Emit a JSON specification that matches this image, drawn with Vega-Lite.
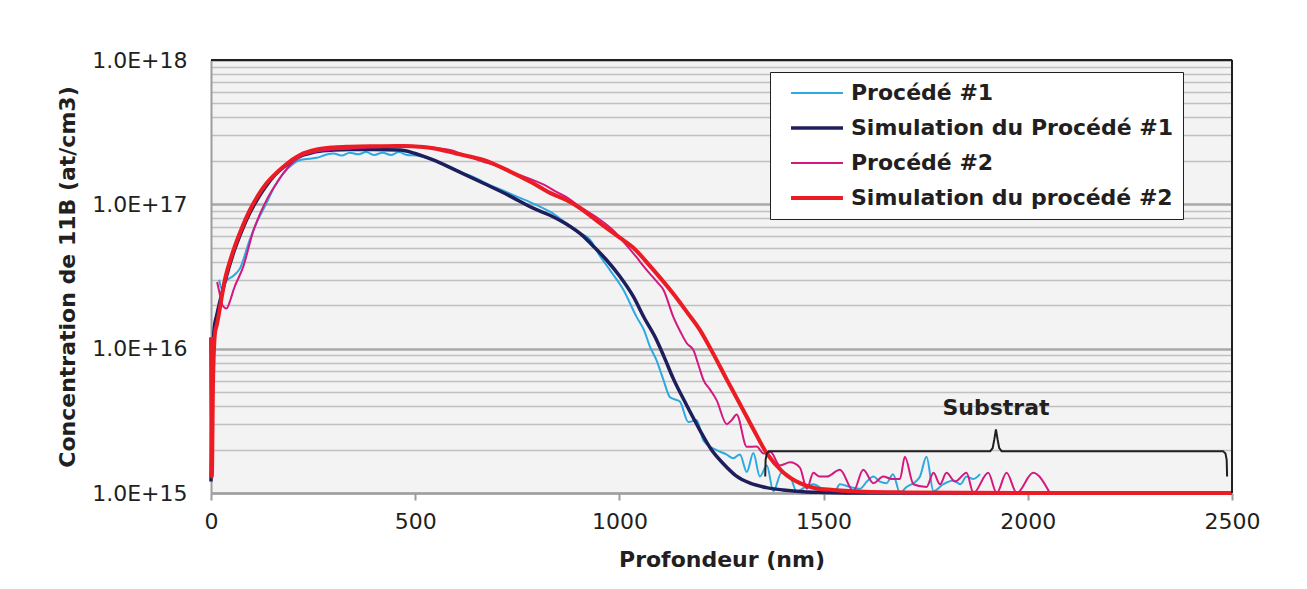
{
  "$schema": "https://vega.github.io/schema/vega-lite/v6.json",
  "width": 1021,
  "height": 433,
  "autosize": {"type": "none"},
  "padding": {"left": 211, "top": 60, "right": 75, "bottom": 96},
  "background": "white",
  "config": {
    "font": "DejaVu Sans",
    "view": {"fill": "#F3F3F3", "stroke": null},
    "axis": {
      "labelFont": "DejaVu Sans",
      "labelFontSize": 22,
      "labelColor": "#231F20",
      "titleFont": "DejaVu Sans",
      "titleFontSize": 22,
      "titleFontWeight": "bold",
      "titleColor": "#231F20",
      "domainColor": "#9D9D9D",
      "domainWidth": 2,
      "tickColor": "#9D9D9D",
      "tickWidth": 2
    }
  },
  "datasets": {
    "profils": [
      {"serie": "Procédé #1", "depth": 20, "conc": 3.0e16},
      {"serie": "Procédé #1", "depth": 26, "conc": 2.6e16},
      {"serie": "Procédé #1", "depth": 35, "conc": 2.9e16},
      {"serie": "Procédé #1", "depth": 55, "conc": 3.2e16},
      {"serie": "Procédé #1", "depth": 71, "conc": 3.6e16},
      {"serie": "Procédé #1", "depth": 95, "conc": 5.7e16},
      {"serie": "Procédé #1", "depth": 115, "conc": 7.8e16},
      {"serie": "Procédé #1", "depth": 136, "conc": 1.02e17},
      {"serie": "Procédé #1", "depth": 155, "conc": 1.32e17},
      {"serie": "Procédé #1", "depth": 177, "conc": 1.64e17},
      {"serie": "Procédé #1", "depth": 200, "conc": 1.9e17},
      {"serie": "Procédé #1", "depth": 218, "conc": 2.03e17},
      {"serie": "Procédé #1", "depth": 240, "conc": 2.07e17},
      {"serie": "Procédé #1", "depth": 259, "conc": 2.1e17},
      {"serie": "Procédé #1", "depth": 280, "conc": 2.2e17},
      {"serie": "Procédé #1", "depth": 300, "conc": 2.25e17},
      {"serie": "Procédé #1", "depth": 320, "conc": 2.18e17},
      {"serie": "Procédé #1", "depth": 340, "conc": 2.28e17},
      {"serie": "Procédé #1", "depth": 360, "conc": 2.22e17},
      {"serie": "Procédé #1", "depth": 380, "conc": 2.3e17},
      {"serie": "Procédé #1", "depth": 400, "conc": 2.2e17},
      {"serie": "Procédé #1", "depth": 420, "conc": 2.28e17},
      {"serie": "Procédé #1", "depth": 440, "conc": 2.2e17},
      {"serie": "Procédé #1", "depth": 460, "conc": 2.3e17},
      {"serie": "Procédé #1", "depth": 480, "conc": 2.2e17},
      {"serie": "Procédé #1", "depth": 504, "conc": 2.18e17},
      {"serie": "Procédé #1", "depth": 540, "conc": 2.05e17},
      {"serie": "Procédé #1", "depth": 585, "conc": 1.82e17},
      {"serie": "Procédé #1", "depth": 615, "conc": 1.66e17},
      {"serie": "Procédé #1", "depth": 642, "conc": 1.55e17},
      {"serie": "Procédé #1", "depth": 683, "conc": 1.36e17},
      {"serie": "Procédé #1", "depth": 715, "conc": 1.25e17},
      {"serie": "Procédé #1", "depth": 749, "conc": 1.13e17},
      {"serie": "Procédé #1", "depth": 780, "conc": 1.04e17},
      {"serie": "Procédé #1", "depth": 813, "conc": 9.4e16},
      {"serie": "Procédé #1", "depth": 830, "conc": 8.9e16},
      {"serie": "Procédé #1", "depth": 870, "conc": 7.4e16},
      {"serie": "Procédé #1", "depth": 900, "conc": 6.4e16},
      {"serie": "Procédé #1", "depth": 928, "conc": 5.7e16},
      {"serie": "Procédé #1", "depth": 950, "conc": 4.5e16},
      {"serie": "Procédé #1", "depth": 977, "conc": 3.5e16},
      {"serie": "Procédé #1", "depth": 1010, "conc": 2.55e16},
      {"serie": "Procédé #1", "depth": 1042, "conc": 1.66e16},
      {"serie": "Procédé #1", "depth": 1060, "conc": 1.35e16},
      {"serie": "Procédé #1", "depth": 1075, "conc": 1.03e16},
      {"serie": "Procédé #1", "depth": 1091, "conc": 8.3e15},
      {"serie": "Procédé #1", "depth": 1108, "conc": 6.05e15},
      {"serie": "Procédé #1", "depth": 1124, "conc": 4.6e15},
      {"serie": "Procédé #1", "depth": 1148, "conc": 4.3e15},
      {"serie": "Procédé #1", "depth": 1169, "conc": 3.1e15},
      {"serie": "Procédé #1", "depth": 1189, "conc": 3.2e15},
      {"serie": "Procédé #1", "depth": 1206, "conc": 2.3e15},
      {"serie": "Procédé #1", "depth": 1238, "conc": 1.98e15},
      {"serie": "Procédé #1", "depth": 1262, "conc": 1.85e15},
      {"serie": "Procédé #1", "depth": 1279, "conc": 1.74e15},
      {"serie": "Procédé #1", "depth": 1295, "conc": 1.85e15},
      {"serie": "Procédé #1", "depth": 1312, "conc": 1.4e15},
      {"serie": "Procédé #1", "depth": 1328, "conc": 1.89e15},
      {"serie": "Procédé #1", "depth": 1344, "conc": 1.3e15},
      {"serie": "Procédé #1", "depth": 1361, "conc": 1.55e15},
      {"serie": "Procédé #1", "depth": 1377, "conc": 1.03e15},
      {"serie": "Procédé #1", "depth": 1397, "conc": 1.38e15},
      {"serie": "Procédé #1", "depth": 1418, "conc": 1.3e15},
      {"serie": "Procédé #1", "depth": 1434, "conc": 1.02e15},
      {"serie": "Procédé #1", "depth": 1455, "conc": 1.1e15},
      {"serie": "Procédé #1", "depth": 1475, "conc": 1.15e15},
      {"serie": "Procédé #1", "depth": 1500, "conc": 1.05e15},
      {"serie": "Procédé #1", "depth": 1525, "conc": 1.0e15},
      {"serie": "Procédé #1", "depth": 1540, "conc": 1.15e15},
      {"serie": "Procédé #1", "depth": 1565, "conc": 1.1e15},
      {"serie": "Procédé #1", "depth": 1589, "conc": 1.07e15},
      {"serie": "Procédé #1", "depth": 1606, "conc": 1.2e15},
      {"serie": "Procédé #1", "depth": 1622, "conc": 1.3e15},
      {"serie": "Procédé #1", "depth": 1638, "conc": 1.2e15},
      {"serie": "Procédé #1", "depth": 1654, "conc": 1.17e15},
      {"serie": "Procédé #1", "depth": 1670, "conc": 1.35e15},
      {"serie": "Procédé #1", "depth": 1687, "conc": 1.0e15},
      {"serie": "Procédé #1", "depth": 1703, "conc": 1.1e15},
      {"serie": "Procédé #1", "depth": 1720, "conc": 1.17e15},
      {"serie": "Procédé #1", "depth": 1736, "conc": 1.3e15},
      {"serie": "Procédé #1", "depth": 1752, "conc": 1.78e15},
      {"serie": "Procédé #1", "depth": 1769, "conc": 1.03e15},
      {"serie": "Procédé #1", "depth": 1793, "conc": 1.15e15},
      {"serie": "Procédé #1", "depth": 1818, "conc": 1.22e15},
      {"serie": "Procédé #1", "depth": 1835, "conc": 1.15e15},
      {"serie": "Procédé #1", "depth": 1850, "conc": 1.3e15},
      {"serie": "Procédé #1", "depth": 1867, "conc": 1.25e15},
      {"serie": "Procédé #1", "depth": 1883, "conc": 1.35e15},

      {"serie": "Simulation du Procédé #1", "depth": 0, "conc": 1.2e15},
      {"serie": "Simulation du Procédé #1", "depth": 3, "conc": 6e15},
      {"serie": "Simulation du Procédé #1", "depth": 8, "conc": 1.4e16},
      {"serie": "Simulation du Procédé #1", "depth": 14, "conc": 1.7e16},
      {"serie": "Simulation du Procédé #1", "depth": 34, "conc": 2.9e16},
      {"serie": "Simulation du Procédé #1", "depth": 55, "conc": 4.6e16},
      {"serie": "Simulation du Procédé #1", "depth": 75, "conc": 6.5e16},
      {"serie": "Simulation du Procédé #1", "depth": 95, "conc": 8.7e16},
      {"serie": "Simulation du Procédé #1", "depth": 115, "conc": 1.1e17},
      {"serie": "Simulation du Procédé #1", "depth": 136, "conc": 1.35e17},
      {"serie": "Simulation du Procédé #1", "depth": 157, "conc": 1.6e17},
      {"serie": "Simulation du Procédé #1", "depth": 177, "conc": 1.8e17},
      {"serie": "Simulation du Procédé #1", "depth": 200, "conc": 2.0e17},
      {"serie": "Simulation du Procédé #1", "depth": 218, "conc": 2.15e17},
      {"serie": "Simulation du Procédé #1", "depth": 240, "conc": 2.25e17},
      {"serie": "Simulation du Procédé #1", "depth": 259, "conc": 2.32e17},
      {"serie": "Simulation du Procédé #1", "depth": 300, "conc": 2.38e17},
      {"serie": "Simulation du Procédé #1", "depth": 340, "conc": 2.4e17},
      {"serie": "Simulation du Procédé #1", "depth": 400, "conc": 2.4e17},
      {"serie": "Simulation du Procédé #1", "depth": 463, "conc": 2.38e17},
      {"serie": "Simulation du Procédé #1", "depth": 500, "conc": 2.25e17},
      {"serie": "Simulation du Procédé #1", "depth": 544, "conc": 2.03e17},
      {"serie": "Simulation du Procédé #1", "depth": 600, "conc": 1.72e17},
      {"serie": "Simulation du Procédé #1", "depth": 667, "conc": 1.4e17},
      {"serie": "Simulation du Procédé #1", "depth": 730, "conc": 1.15e17},
      {"serie": "Simulation du Procédé #1", "depth": 789, "conc": 9.4e16},
      {"serie": "Simulation du Procédé #1", "depth": 830, "conc": 8.4e16},
      {"serie": "Simulation du Procédé #1", "depth": 870, "conc": 7.3e16},
      {"serie": "Simulation du Procédé #1", "depth": 912, "conc": 6.0e16},
      {"serie": "Simulation du Procédé #1", "depth": 940, "conc": 5.0e16},
      {"serie": "Simulation du Procédé #1", "depth": 969, "conc": 4.1e16},
      {"serie": "Simulation du Procédé #1", "depth": 1000, "conc": 3.2e16},
      {"serie": "Simulation du Procédé #1", "depth": 1034, "conc": 2.3e16},
      {"serie": "Simulation du Procédé #1", "depth": 1060, "conc": 1.65e16},
      {"serie": "Simulation du Procédé #1", "depth": 1091, "conc": 1.15e16},
      {"serie": "Simulation du Procédé #1", "depth": 1110, "conc": 8.7e15},
      {"serie": "Simulation du Procédé #1", "depth": 1132, "conc": 6.2e15},
      {"serie": "Simulation du Procédé #1", "depth": 1160, "conc": 4.3e15},
      {"serie": "Simulation du Procédé #1", "depth": 1197, "conc": 2.73e15},
      {"serie": "Simulation du Procédé #1", "depth": 1225, "conc": 2.0e15},
      {"serie": "Simulation du Procédé #1", "depth": 1254, "conc": 1.6e15},
      {"serie": "Simulation du Procédé #1", "depth": 1285, "conc": 1.32e15},
      {"serie": "Simulation du Procédé #1", "depth": 1320, "conc": 1.17e15},
      {"serie": "Simulation du Procédé #1", "depth": 1360, "conc": 1.09e15},
      {"serie": "Simulation du Procédé #1", "depth": 1401, "conc": 1.05e15},
      {"serie": "Simulation du Procédé #1", "depth": 1450, "conc": 1.02e15},
      {"serie": "Simulation du Procédé #1", "depth": 1500, "conc": 1.01e15},
      {"serie": "Simulation du Procédé #1", "depth": 1600, "conc": 1.0e15},
      {"serie": "Simulation du Procédé #1", "depth": 2000, "conc": 1.0e15},
      {"serie": "Simulation du Procédé #1", "depth": 2500, "conc": 1.0e15},

      {"serie": "Procédé #2", "depth": 15, "conc": 2.9e16},
      {"serie": "Procédé #2", "depth": 20, "conc": 2.5e16},
      {"serie": "Procédé #2", "depth": 28, "conc": 2.0e16},
      {"serie": "Procédé #2", "depth": 38, "conc": 1.9e16},
      {"serie": "Procédé #2", "depth": 48, "conc": 2.2e16},
      {"serie": "Procédé #2", "depth": 55, "conc": 2.55e16},
      {"serie": "Procédé #2", "depth": 79, "conc": 3.7e16},
      {"serie": "Procédé #2", "depth": 104, "conc": 6.6e16},
      {"serie": "Procédé #2", "depth": 120, "conc": 8.6e16},
      {"serie": "Procédé #2", "depth": 136, "conc": 1.07e17},
      {"serie": "Procédé #2", "depth": 157, "conc": 1.35e17},
      {"serie": "Procédé #2", "depth": 177, "conc": 1.64e17},
      {"serie": "Procédé #2", "depth": 200, "conc": 1.95e17},
      {"serie": "Procédé #2", "depth": 218, "conc": 2.14e17},
      {"serie": "Procédé #2", "depth": 259, "conc": 2.32e17},
      {"serie": "Procédé #2", "depth": 300, "conc": 2.4e17},
      {"serie": "Procédé #2", "depth": 340, "conc": 2.43e17},
      {"serie": "Procédé #2", "depth": 380, "conc": 2.48e17},
      {"serie": "Procédé #2", "depth": 420, "conc": 2.5e17},
      {"serie": "Procédé #2", "depth": 463, "conc": 2.58e17},
      {"serie": "Procédé #2", "depth": 490, "conc": 2.55e17},
      {"serie": "Procédé #2", "depth": 520, "conc": 2.5e17},
      {"serie": "Procédé #2", "depth": 555, "conc": 2.45e17},
      {"serie": "Procédé #2", "depth": 585, "conc": 2.38e17},
      {"serie": "Procédé #2", "depth": 625, "conc": 2.17e17},
      {"serie": "Procédé #2", "depth": 667, "conc": 1.97e17},
      {"serie": "Procédé #2", "depth": 700, "conc": 1.85e17},
      {"serie": "Procédé #2", "depth": 732, "conc": 1.68e17},
      {"serie": "Procédé #2", "depth": 760, "conc": 1.58e17},
      {"serie": "Procédé #2", "depth": 789, "conc": 1.47e17},
      {"serie": "Procédé #2", "depth": 815, "conc": 1.37e17},
      {"serie": "Procédé #2", "depth": 846, "conc": 1.22e17},
      {"serie": "Procédé #2", "depth": 875, "conc": 1.1e17},
      {"serie": "Procédé #2", "depth": 904, "conc": 9.6e16},
      {"serie": "Procédé #2", "depth": 945, "conc": 8.1e16},
      {"serie": "Procédé #2", "depth": 985, "conc": 6.6e16},
      {"serie": "Procédé #2", "depth": 1015, "conc": 5.3e16},
      {"serie": "Procédé #2", "depth": 1042, "conc": 4.3e16},
      {"serie": "Procédé #2", "depth": 1060, "conc": 3.7e16},
      {"serie": "Procédé #2", "depth": 1075, "conc": 3.3e16},
      {"serie": "Procédé #2", "depth": 1092, "conc": 2.9e16},
      {"serie": "Procédé #2", "depth": 1108, "conc": 2.55e16},
      {"serie": "Procédé #2", "depth": 1132, "conc": 1.66e16},
      {"serie": "Procédé #2", "depth": 1150, "conc": 1.3e16},
      {"serie": "Procédé #2", "depth": 1165, "conc": 1.09e16},
      {"serie": "Procédé #2", "depth": 1181, "conc": 9.8e15},
      {"serie": "Procédé #2", "depth": 1195, "conc": 7.5e15},
      {"serie": "Procédé #2", "depth": 1206, "conc": 6.05e15},
      {"serie": "Procédé #2", "depth": 1222, "conc": 5.2e15},
      {"serie": "Procédé #2", "depth": 1238, "conc": 4.4e15},
      {"serie": "Procédé #2", "depth": 1263, "conc": 3.0e15},
      {"serie": "Procédé #2", "depth": 1275, "conc": 3.2e15},
      {"serie": "Procédé #2", "depth": 1287, "conc": 3.5e15},
      {"serie": "Procédé #2", "depth": 1312, "conc": 2.09e15},
      {"serie": "Procédé #2", "depth": 1336, "conc": 2.1e15},
      {"serie": "Procédé #2", "depth": 1353, "conc": 1.88e15},
      {"serie": "Procédé #2", "depth": 1370, "conc": 1.92e15},
      {"serie": "Procédé #2", "depth": 1393, "conc": 1.55e15},
      {"serie": "Procédé #2", "depth": 1418, "conc": 1.63e15},
      {"serie": "Procédé #2", "depth": 1442, "conc": 1.5e15},
      {"serie": "Procédé #2", "depth": 1459, "conc": 1.07e15},
      {"serie": "Procédé #2", "depth": 1475, "conc": 1.38e15},
      {"serie": "Procédé #2", "depth": 1490, "conc": 1.3e15},
      {"serie": "Procédé #2", "depth": 1508, "conc": 1.3e15},
      {"serie": "Procédé #2", "depth": 1540, "conc": 1.45e15},
      {"serie": "Procédé #2", "depth": 1573, "conc": 1.03e15},
      {"serie": "Procédé #2", "depth": 1597, "conc": 1.45e15},
      {"serie": "Procédé #2", "depth": 1622, "conc": 1.17e15},
      {"serie": "Procédé #2", "depth": 1646, "conc": 1.3e15},
      {"serie": "Procédé #2", "depth": 1667, "conc": 1.25e15},
      {"serie": "Procédé #2", "depth": 1687, "conc": 1.25e15},
      {"serie": "Procédé #2", "depth": 1699, "conc": 1.78e15},
      {"serie": "Procédé #2", "depth": 1720, "conc": 1.15e15},
      {"serie": "Procédé #2", "depth": 1752, "conc": 1.1e15},
      {"serie": "Procédé #2", "depth": 1769, "conc": 1.38e15},
      {"serie": "Procédé #2", "depth": 1785, "conc": 1.15e15},
      {"serie": "Procédé #2", "depth": 1801, "conc": 1.38e15},
      {"serie": "Procédé #2", "depth": 1822, "conc": 1.2e15},
      {"serie": "Procédé #2", "depth": 1850, "conc": 1.38e15},
      {"serie": "Procédé #2", "depth": 1867, "conc": 1.0e15},
      {"serie": "Procédé #2", "depth": 1903, "conc": 1.38e15},
      {"serie": "Procédé #2", "depth": 1924, "conc": 1.0e15},
      {"serie": "Procédé #2", "depth": 1948, "conc": 1.38e15},
      {"serie": "Procédé #2", "depth": 1973, "conc": 1.0e15},
      {"serie": "Procédé #2", "depth": 2013, "conc": 1.38e15},
      {"serie": "Procédé #2", "depth": 2054, "conc": 1.0e15},

      {"serie": "Simulation du procédé #2", "depth": 0, "conc": 1.2e16},
      {"serie": "Simulation du procédé #2", "depth": 2, "conc": 1.3e15},
      {"serie": "Simulation du procédé #2", "depth": 5, "conc": 6e15},
      {"serie": "Simulation du procédé #2", "depth": 10, "conc": 1.3e16},
      {"serie": "Simulation du procédé #2", "depth": 14, "conc": 1.45e16},
      {"serie": "Simulation du procédé #2", "depth": 34, "conc": 3.0e16},
      {"serie": "Simulation du procédé #2", "depth": 55, "conc": 4.8e16},
      {"serie": "Simulation du procédé #2", "depth": 75, "conc": 6.8e16},
      {"serie": "Simulation du procédé #2", "depth": 95, "conc": 9.1e16},
      {"serie": "Simulation du procédé #2", "depth": 115, "conc": 1.15e17},
      {"serie": "Simulation du procédé #2", "depth": 136, "conc": 1.4e17},
      {"serie": "Simulation du procédé #2", "depth": 157, "conc": 1.62e17},
      {"serie": "Simulation du procédé #2", "depth": 177, "conc": 1.82e17},
      {"serie": "Simulation du procédé #2", "depth": 200, "conc": 2.05e17},
      {"serie": "Simulation du procédé #2", "depth": 218, "conc": 2.2e17},
      {"serie": "Simulation du procédé #2", "depth": 259, "conc": 2.4e17},
      {"serie": "Simulation du procédé #2", "depth": 300, "conc": 2.48e17},
      {"serie": "Simulation du procédé #2", "depth": 340, "conc": 2.51e17},
      {"serie": "Simulation du procédé #2", "depth": 400, "conc": 2.53e17},
      {"serie": "Simulation du procédé #2", "depth": 463, "conc": 2.54e17},
      {"serie": "Simulation du procédé #2", "depth": 520, "conc": 2.5e17},
      {"serie": "Simulation du procédé #2", "depth": 544, "conc": 2.45e17},
      {"serie": "Simulation du procédé #2", "depth": 600, "conc": 2.25e17},
      {"serie": "Simulation du procédé #2", "depth": 667, "conc": 2.03e17},
      {"serie": "Simulation du procédé #2", "depth": 730, "conc": 1.7e17},
      {"serie": "Simulation du procédé #2", "depth": 789, "conc": 1.4e17},
      {"serie": "Simulation du procédé #2", "depth": 830, "conc": 1.2e17},
      {"serie": "Simulation du procédé #2", "depth": 870, "conc": 1.07e17},
      {"serie": "Simulation du procédé #2", "depth": 904, "conc": 9.4e16},
      {"serie": "Simulation du procédé #2", "depth": 950, "conc": 7.5e16},
      {"serie": "Simulation du procédé #2", "depth": 1000, "conc": 5.9e16},
      {"serie": "Simulation du procédé #2", "depth": 1034, "conc": 5.0e16},
      {"serie": "Simulation du procédé #2", "depth": 1080, "conc": 3.6e16},
      {"serie": "Simulation du procédé #2", "depth": 1132, "conc": 2.4e16},
      {"serie": "Simulation du procédé #2", "depth": 1165, "conc": 1.8e16},
      {"serie": "Simulation du procédé #2", "depth": 1197, "conc": 1.35e16},
      {"serie": "Simulation du procédé #2", "depth": 1230, "conc": 9.2e15},
      {"serie": "Simulation du procédé #2", "depth": 1263, "conc": 6.1e15},
      {"serie": "Simulation du procédé #2", "depth": 1300, "conc": 3.9e15},
      {"serie": "Simulation du procédé #2", "depth": 1330, "conc": 2.7e15},
      {"serie": "Simulation du procédé #2", "depth": 1361, "conc": 1.88e15},
      {"serie": "Simulation du procédé #2", "depth": 1400, "conc": 1.4e15},
      {"serie": "Simulation du procédé #2", "depth": 1442, "conc": 1.17e15},
      {"serie": "Simulation du procédé #2", "depth": 1480, "conc": 1.08e15},
      {"serie": "Simulation du procédé #2", "depth": 1523, "conc": 1.05e15},
      {"serie": "Simulation du procédé #2", "depth": 1600, "conc": 1.02e15},
      {"serie": "Simulation du procédé #2", "depth": 1700, "conc": 1.01e15},
      {"serie": "Simulation du procédé #2", "depth": 2000, "conc": 1.0e15},
      {"serie": "Simulation du procédé #2", "depth": 2500, "conc": 1.0e15}
    ],
    "accolade": [
      {"depth": 1357, "conc": 1.3e15},
      {"depth": 1358, "conc": 1.7e15},
      {"depth": 1361, "conc": 1.88e15},
      {"depth": 1366, "conc": 1.95e15},
      {"depth": 1908, "conc": 1.95e15},
      {"depth": 1914, "conc": 2.05e15},
      {"depth": 1918, "conc": 2.35e15},
      {"depth": 1922, "conc": 2.76e15},
      {"depth": 1926, "conc": 2.35e15},
      {"depth": 1930, "conc": 2.05e15},
      {"depth": 1936, "conc": 1.95e15},
      {"depth": 2478, "conc": 1.95e15},
      {"depth": 2484, "conc": 1.88e15},
      {"depth": 2487, "conc": 1.7e15},
      {"depth": 2488, "conc": 1.3e15}
    ],
    "annotation": [
      {"depth": 1922, "conc": 3.9e15, "texte": "Substrat"}
    ],
    "bordHaut": [{"conc": 1e18}],
    "bordDroit": [{"depth": 2500}]
  },
  "layer": [
    {
      "data": {"name": "profils"},
      "mark": {"type": "line", "interpolate": "monotone"},
      "encoding": {
        "x": {
          "field": "depth",
          "type": "quantitative",
          "scale": {"domain": [0, 2500], "nice": false},
          "axis": {
            "title": "Profondeur (nm)",
            "values": [0, 500, 1000, 1500, 2000, 2500],
            "format": "d",
            "labelFlush": false,
            "grid": false,
            "ticks": true,
            "tickSize": 7,
            "labelPadding": 11,
            "titlePadding": 17
          }
        },
        "y": {
          "field": "conc",
          "type": "quantitative",
          "scale": {"type": "log", "domain": [1e15, 1e18], "nice": false},
          "axis": {
            "title": "Concentration de 11B (at/cm3)",
            "values": [1e15, 2e15, 3e15, 4e15, 5e15, 6e15, 7e15, 8e15, 9e15, 1e16, 2e16, 3e16, 4e16, 5e16, 6e16, 7e16, 8e16, 9e16, 1e17, 2e17, 3e17, 4e17, 5e17, 6e17, 7e17, 8e17, 9e17, 1e18],
            "labelExpr": "abs(log(datum.value)/LN10 - round(log(datum.value)/LN10)) < 0.001 ? '1.0E+' + round(log(datum.value)/LN10) : ''",
            "ticks": false,
            "labelPadding": 24,
            "titlePadding": 12,
            "grid": true,
            "gridColor": {"condition": {"test": "abs(log(datum.value)/LN10 - round(log(datum.value)/LN10)) < 0.001", "value": "#A8A8A8"}, "value": "#C0C0C0"},
            "gridWidth": {"condition": {"test": "abs(log(datum.value)/LN10 - round(log(datum.value)/LN10)) < 0.001", "value": 2.5}, "value": 1.5}
          }
        },
        "color": {
          "field": "serie",
          "type": "nominal",
          "scale": {
            "domain": ["Procédé #1", "Simulation du Procédé #1", "Procédé #2", "Simulation du procédé #2"],
            "range": ["#2CA9E1", "#1D1E5B", "#D3187F", "#EC1C24"]
          },
          "legend": {
            "title": null,
            "orient": "none",
            "legendX": 559,
            "legendY": 12,
            "symbolType": "stroke",
            "symbolSize": 2700,
            "clipHeight": 24,
            "labelFont": "DejaVu Sans",
            "labelFontSize": 22,
            "labelFontWeight": "bold",
            "labelColor": "#231F20",
            "labelLimit": 600,
            "labelOffset": 6,
            "symbolOffset": 10,
            "fillColor": "white",
            "strokeColor": "#231F20",
            "padding": 9,
            "rowPadding": 11
          }
        },
        "strokeWidth": {
          "field": "serie",
          "type": "nominal",
          "scale": {
            "type": "ordinal",
            "domain": ["Procédé #1", "Simulation du Procédé #1", "Procédé #2", "Simulation du procédé #2"],
            "range": [2, 3.5, 2, 4]
          }
        }
      }
    },
    {
      "data": {"name": "accolade"},
      "mark": {"type": "line", "color": "#231F20", "strokeWidth": 2, "interpolate": "linear"},
      "encoding": {
        "x": {"field": "depth", "type": "quantitative"},
        "y": {"field": "conc", "type": "quantitative"}
      }
    },
    {
      "data": {"name": "annotation"},
      "mark": {"type": "text", "font": "DejaVu Sans", "fontSize": 22, "fontWeight": "bold", "color": "#231F20", "align": "center", "baseline": "middle"},
      "encoding": {
        "x": {"field": "depth", "type": "quantitative"},
        "y": {"field": "conc", "type": "quantitative"},
        "text": {"field": "texte"}
      }
    },
    {
      "data": {"name": "bordHaut"},
      "mark": {"type": "rule", "color": "#231F20", "strokeWidth": 2},
      "encoding": {
        "y": {"field": "conc", "type": "quantitative"}
      }
    },
    {
      "data": {"name": "bordDroit"},
      "mark": {"type": "rule", "color": "#231F20", "strokeWidth": 2},
      "encoding": {
        "x": {"field": "depth", "type": "quantitative"}
      }
    }
  ]
}
